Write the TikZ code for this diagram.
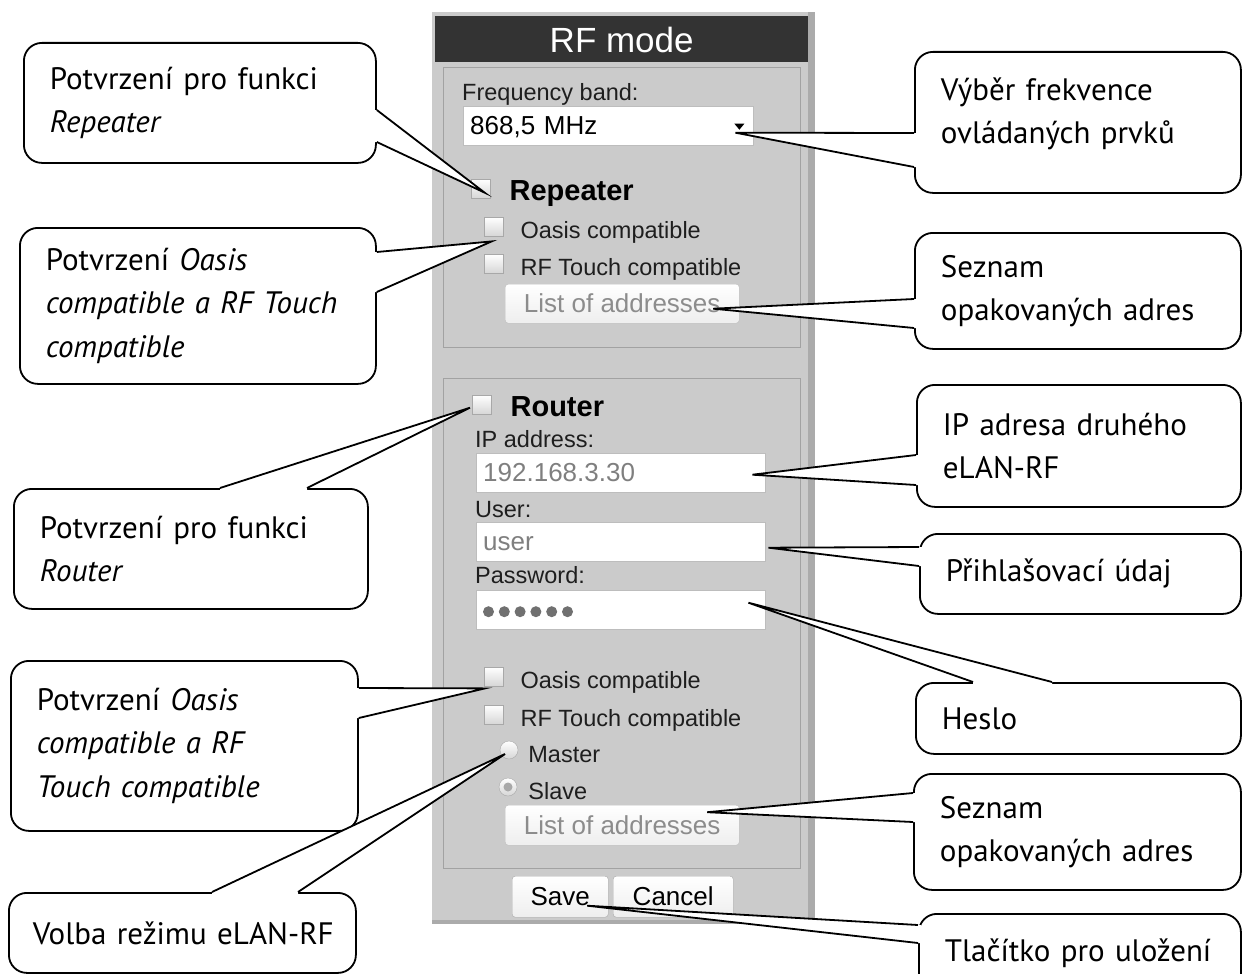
\documentclass[tikz,border=0pt]{standalone}
\usepackage{fontspec}
\newfontfamily\callfont{PT Sans}
\newfontfamily\guifont{Liberation Sans}
\usetikzlibrary{positioning,calc}
\definecolor{panelgray}{HTML}{CBCBCB}
\definecolor{panelshade}{HTML}{ABABAB}
\definecolor{titlegray}{HTML}{333333}
\definecolor{framegray}{HTML}{A2A2A2}
\definecolor{boxline}{HTML}{A8A8A8}
\definecolor{chkgray}{HTML}{D6D6D6}
\definecolor{lbltext}{HTML}{1E1E1E}
\definecolor{fieldline}{HTML}{BDBDBD}
\definecolor{fieldtext}{HTML}{7F7F7F}
\definecolor{btnfill}{HTML}{EEEEEE}
\definecolor{btnline}{HTML}{A9A9A9}
\definecolor{btntext}{HTML}{8C8C8C}
\definecolor{dotgray}{HTML}{707070}

\newcommand{\pointer}[4]{%
  \fill[white] ($(#1)+(#4)$) -- (#1) -- (#2) -- (#3) -- ($(#3)+(#4)$) -- cycle;
  \draw[ptr] (#1) -- (#2) -- (#3);}

\begin{document}
\begin{tikzpicture}[x=1pt, y=-1pt,
   callout/.style={draw, line width=1.8pt, fill=white, rounded corners=18pt, anchor=north west,
      inner xsep=26pt, inner ysep=0pt, align=left, font=\callfont\fontsize{31}{43.5}\selectfont},
   ptr/.style={line width=1.8pt},
   grp/.style={draw=framegray, line width=1.2pt, anchor=north west, inner sep=0pt},
   chkbox/.style={draw=boxline, top color=white, bottom color=chkgray, minimum size=19pt,
      inner sep=0pt, anchor=north west},
   radio/.style={circle, draw=boxline, top color=white, bottom color=chkgray, minimum size=18pt, inner sep=0pt},
   lbl/.style={font=\guifont\fontsize{23.5}{26}\selectfont, text=lbltext, inner sep=0pt, anchor=base west},
   chklbl/.style={lbl, yshift=-12pt},
   boldlbl/.style={chklbl, font=\guifont\bfseries\fontsize{29}{32}\selectfont, text=black},
   field/.style={draw=fieldline, fill=white, anchor=north west, minimum height=39pt, text width=275pt,
      inner xsep=7pt, inner ysep=0pt, text height=23pt, text depth=5pt, align=left, text=fieldtext,
      font=\guifont\fontsize{26}{28}\selectfont},
   button/.style={draw=btnline, top color=white, bottom color=btnfill, rounded corners=3pt, anchor=north west,
      minimum height=39pt, inner sep=0pt, text height=23pt, text depth=5pt, text=btntext,
      font=\guifont\fontsize{26}{28}\selectfont}
]
\useasboundingbox (0,0) rectangle (1242,974);
\clip (0,0) rectangle (1242,974);
\fill[white] (0,0) rectangle (1242,974);

% panel
\fill[panelgray] (432,12) rectangle (815,924);
\fill[panelshade] (808,12) rectangle (815,924);
\fill[panelshade] (432,920) rectangle (815,924);
\node[fill=titlegray, anchor=north west, minimum width=373pt, minimum height=46pt, inner sep=0pt,
   text height=31pt, text depth=5pt, text=white, font=\guifont\fontsize{35}{38}\selectfont] (title) at (435,16) {RF mode};

% repeater group
\node[grp, minimum width=357pt, minimum height=280pt] (grpRep) at (443,67) {};
\node[lbl] (lblFreq) at (462,100) {Frequency band:};
\node[field, text=black, text width=276pt] (ddFreq) at (463,106) {868,5 MHz};
\coordinate (ddArrow) at ($(ddFreq.east)+(-14,0)$);
\fill ($(ddArrow)+(-5,-2)$) -- ($(ddArrow)+(5,-2)$) -- ($(ddArrow)+(0,4)$) -- cycle;
\node[chkbox] (chkRep) at (471,179) {};
\node[boldlbl, base right=19pt of chkRep] (lblRep) {Repeater};
\node[chkbox] (chkOasA) at (484,217) {};
\node[chklbl, base right=17pt of chkOasA] (lblOasA) {Oasis compatible};
\node[chkbox] (chkTchA) at (484,254) {};
\node[chklbl, base right=17pt of chkTchA] (lblTchA) {RF Touch compatible};
\node[button, minimum width=234pt, draw=fieldline] (btnListA) at (505,284) {List of addresses};

% router group
\node[grp, minimum width=357pt, minimum height=490pt] (grpRout) at (443,378) {};
\node[chkbox] (chkRout) at (472,395) {};
\node[boldlbl, base right=19pt of chkRout] (lblRout) {Router};
\node[lbl] (lblIP) at (475,447) {IP address:};
\node[field] (inIP) at (476,453) {192.168.3.30};
\node[lbl] (lblUser) at (475,517) {User:};
\node[field] (inUser) at (476,522) {user};
\node[lbl] (lblPass) at (475,583) {Password:};
\node[field] (inPass) at (476,590) {};
\foreach \i in {0,...,5}
   \fill[dotgray] ($(inPass.west)+(12.5+15.8*\i,2)$) circle (5.5pt);
\node[chkbox] (chkOasB) at (484,667) {};
\node[chklbl, base right=17pt of chkOasB] (lblOasB) {Oasis compatible};
\node[chkbox] (chkTchB) at (484,705) {};
\node[chklbl, base right=17pt of chkTchB] (lblTchB) {RF Touch compatible};
\node[radio] (radMas) at (509,750) {};
\node[chklbl, base right=10pt of radMas] (lblMas) {Master};
\node[radio] (radSlv) at (508,787) {};
\fill[boxline] (radSlv) circle (4.5pt);
\node[chklbl, base right=11pt of radSlv] (lblSlv) {Slave};
\node[button, minimum width=234pt, minimum height=40pt, draw=fieldline] (btnListB) at (505,805) {List of addresses};
\node[button, text=black, minimum width=96pt, minimum height=41pt] (btnSave) at (512,876) {Save};
\node[button, text=black, minimum width=120pt, minimum height=41pt] (btnCancel) at (613,876) {Cancel};

% tips
\coordinate (tipRep)   at ($(chkRep.center)+(4,4)$);
\coordinate (tipOasA)  at ($(chkOasA.south)+(-2,5)$);
\coordinate (tipRout)  at ($(chkRout.west)+(-2,3)$);
\coordinate (tipOasB)  at ($(chkOasB.south west)+(1,2)$);
\coordinate (tipMode)  at ($(radMas.center)+(-4,4)$);
\coordinate (tipFreq)  at ($(ddArrow)+(-4,7)$);
\coordinate (tipListA) at ($(btnListA.center)+(91,5)$);
\coordinate (tipIP)    at ($(inIP.east)+(-13,2)$);
\coordinate (tipUser)  at ($(inUser.east)+(3,6)$);
\coordinate (tipPass)  at ($(inPass.east)+(-17,-7)$);
\coordinate (tipListB) at ($(btnListB.center)+(85,-13)$);
\coordinate (tipSave)  at ($(btnSave.center)+(27,9)$);

% callouts left
\node[callout, minimum width=352pt, minimum height=120pt, text width=300pt] (cRep) at (23,42)
   {Potvrzení pro funkci\\\textit{Repeater}};
\pointer{cRep.east |- 0,110}{tipRep}{cRep.east |- 0,142}{-3,0}
\node[callout, minimum width=356pt, minimum height=156pt, text width=304pt] (cOasA) at (19,227)
   {Potvrzení \textit{Oasis}\\\textit{compatible a RF Touch}\\\textit{compatible}};
\pointer{cOasA.east |- 0,252}{tipOasA}{cOasA.east |- 0,292}{-3,0}
\node[callout, minimum width=354pt, minimum height=120pt, text width=302pt] (cRout) at (13,488)
   {Potvrzení pro funkci\\\textit{Router}};
\pointer{220,0 |- cRout.north}{tipRout}{307,0 |- cRout.north}{0,3}
\node[callout, minimum width=347pt, minimum height=170pt, text width=295pt] (cOasB) at (10,660)
   {Potvrzení \textit{Oasis}\\\textit{compatible a RF}\\\textit{Touch compatible}};
\pointer{cOasB.east |- 0,688}{tipOasB}{cOasB.east |- 0,718}{-3,0}
\node[callout, minimum width=347pt, minimum height=80pt, inner xsep=20pt, text width=307pt] (cMode) at (8,892)
   {\hspace*{4pt}Volba režimu eLAN-RF};
\pointer{212,0 |- cMode.north}{tipMode}{298,0 |- cMode.north}{0,3}

% callouts right
\node[callout, minimum width=326pt, minimum height=141pt, text width=274pt] (cFreq) at (914,51)
   {Výběr frekvence\\ovládaných prvků\\[-20pt]\mbox{}};
\pointer{cFreq.west |- 0,133}{tipFreq}{cFreq.west |- 0,167}{3,0}
\node[callout, minimum width=326pt, minimum height=116pt, text width=274pt] (cListA) at (914,232)
   {Seznam\\opakovaných adres};
\pointer{cListA.west |- 0,299}{tipListA}{cListA.west |- 0,328}{3,0}
\node[callout, minimum width=324pt, minimum height=122pt, text width=272pt] (cIP) at (916,384)
   {IP adresa druhého\\eLAN-RF};
\pointer{cIP.west |- 0,455}{tipIP}{cIP.west |- 0,485}{3,0}
\node[callout, minimum width=321pt, minimum height=80pt, text width=269pt] (cUser) at (919,533)
   {Přihlašovací údaj};
\pointer{cUser.west |- 0,547}{tipUser}{cUser.west |- 0,566}{3,0}
\node[callout, minimum width=325pt, minimum height=71pt, text width=273pt] (cPass) at (915,682)
   {Heslo};
\pointer{973,0 |- cPass.north}{tipPass}{1052,0 |- cPass.north}{0,3}
\node[callout, minimum width=327pt, minimum height=116pt, text width=275pt] (cListB) at (913,773)
   {Seznam\\opakovaných adres};
\pointer{cListB.west |- 0,793}{tipListB}{cListB.west |- 0,822}{3,0}
\node[callout, minimum width=322pt, minimum height=78pt, text width=270pt] (cSave) at (918,913)
   {Tlačítko pro uložení};
\pointer{cSave.west |- 0,925}{tipSave}{cSave.west |- 0,943}{3,0}
\end{tikzpicture}
\end{document}
